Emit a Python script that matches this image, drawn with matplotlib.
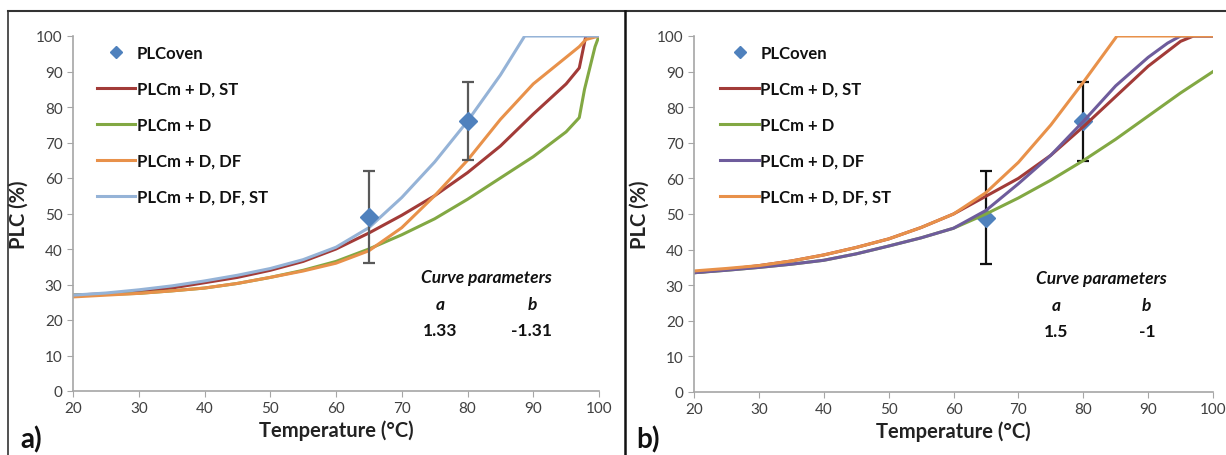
import matplotlib
matplotlib.use("Agg")
import matplotlib.pyplot as plt
from matplotlib.lines import Line2D

plt.rcParams['font.family'] = ['Lato', 'DejaVu Sans']

# ---------------- datos ----------------
oven_t = [65, 80]
oven_plc = [49, 76]
oven_lo = [36, 65]
oven_hi = [62, 87]

# panel a)
a_st_t = [20, 25, 30, 35, 40, 45, 50, 55, 60, 65, 70, 75, 80, 85, 90, 95, 97, 98, 100]
a_st_v = [27, 27.4, 28, 29, 30.5, 32, 34, 36.5, 40, 44.5, 49.5, 55, 61.5, 69, 78, 86.5, 91, 100, 100]
a_d_t = [20, 25, 30, 35, 40, 45, 50, 55, 60, 65, 70, 75, 80, 85, 90, 95, 97, 97.8, 98.6, 99.4, 100]
a_d_v = [27, 27.2, 27.5, 28.2, 29, 30.3, 32, 34, 36.5, 40, 44, 48.5, 54, 60, 66, 73, 77, 85, 91, 97, 100]
a_df_t = [20, 25, 30, 35, 40, 45, 50, 55, 60, 65, 70, 75, 80, 85, 90, 95, 97, 98, 100]
a_df_v = [26.5, 27, 27.5, 28.2, 29, 30.3, 32, 33.8, 36, 39.5, 46, 55, 65, 76.5, 86.5, 94, 97, 99, 100]
a_dfst_t = [20, 25, 30, 35, 40, 45, 50, 55, 60, 65, 70, 75, 80, 85, 88.7, 100]
a_dfst_v = [27, 27.6, 28.5, 29.6, 31, 32.6, 34.5, 37, 40.5, 46, 54.5, 64.5, 76, 89, 100, 100]

# panel b)
b_st_t = [20, 25, 30, 35, 40, 45, 50, 55, 60, 65, 70, 75, 80, 85, 90, 95, 97, 100]
b_st_v = [33.5, 34.4, 35.5, 36.8, 38.5, 40.6, 43, 46.2, 50, 55, 60, 66.5, 74.5, 83, 91.5, 98.5, 100, 100]
b_d_t = [20, 25, 30, 35, 40, 45, 50, 55, 60, 65, 70, 75, 80, 85, 90, 95, 100]
b_d_v = [33.5, 34.2, 35, 35.9, 37, 38.8, 41, 43.3, 46, 50, 54.5, 59.5, 65, 71, 77.5, 84, 90]
b_df_t = [20, 25, 30, 35, 40, 45, 50, 55, 60, 65, 70, 75, 80, 85, 90, 93, 95, 100]
b_df_v = [33.5, 34.2, 35, 35.9, 37, 38.8, 41, 43.3, 46, 51, 58.5, 66.5, 76, 86, 94, 98, 100, 100]
b_dfst_t = [20, 25, 30, 35, 40, 45, 50, 55, 60, 65, 70, 75, 80, 85.2, 100]
b_dfst_v = [34, 34.7, 35.5, 36.8, 38.5, 40.6, 43, 46.2, 50, 56, 64.5, 75, 87, 100, 100]

c_red = "#A23B38"
c_green = "#82A843"
c_orange = "#E8914A"
c_blue = "#95B3D7"
c_purple = "#6E5C9C"
c_mark = "#4F81BD"
tick_c = "#404040"

fig = plt.figure(figsize=(12.26, 4.56), dpi=100)


def style_axes(ax):
    ax.set_xlim(20, 100)
    ax.set_ylim(0, 100)
    ax.set_xticks(range(20, 101, 10))
    ax.set_yticks(range(0, 101, 10))
    for s in ("top", "right"):
        ax.spines[s].set_visible(False)
    for s in ("left", "bottom"):
        ax.spines[s].set_color("#A6A6A6")
        ax.spines[s].set_linewidth(1.2)
    ax.tick_params(direction="out", length=4, color="#A6A6A6", labelcolor=tick_c,
                   labelsize=11)
    ax.set_xlabel("Temperature (°C)", fontsize=14.5, fontweight="bold", color="#222222",
                  labelpad=3)
    ax.set_ylabel("PLC (%)", fontsize=14.5, fontweight="bold", color="#222222", labelpad=5)


def panel(ax, series, a_txt, b_txt, bar_c, marks_on_top, leg_x):
    style_axes(ax)
    zm = 4 if marks_on_top else 1.5
    ax.errorbar(oven_t, oven_plc,
                yerr=[[p - l for p, l in zip(oven_plc, oven_lo)],
                      [h - p for p, h in zip(oven_plc, oven_hi)]],
                fmt="none", ecolor=bar_c, elinewidth=1.6, capsize=4, capthick=1.6,
                zorder=zm - 0.1)
    ax.plot(oven_t, oven_plc, "D", color=c_mark, markersize=9.5, zorder=zm,
            label="PLCoven", linestyle="none")
    for t, v, c, lab in series:
        ax.plot(t, v, color=c, lw=2.2, label=lab, zorder=2)
    handles, labels = ax.get_legend_handles_labels()
    leg = ax.legend(handles, labels, loc="upper left", bbox_to_anchor=(leg_x, 0.975),
                    frameon=False, handlelength=2.3, handletextpad=0.1,
                    labelspacing=1.2, borderaxespad=0, borderpad=0,
                    markerscale=0.6, prop={"weight": "bold", "size": 12})
    for txt in leg.get_texts():
        txt.set_color("#111111")
    kw = dict(ha="center", va="center", fontsize=12.5, fontweight="bold", color="#111111")
    ax.text(82.8, 32, "Curve parameters", fontstyle="italic", **kw)
    ax.text(75.8, 24.5, "a", fontstyle="italic", **kw)
    ax.text(89.8, 24.5, "b", fontstyle="italic", **kw)
    ax.text(75.8, 17.2, a_txt, **kw)
    ax.text(89.8, 17.2, b_txt, **kw)


ax1 = fig.add_axes([73 / 1226, 1 - 392 / 456, 526 / 1226, 355 / 456])
panel(ax1, [(a_st_t, a_st_v, c_red, "PLCm + D, ST"),
            (a_d_t, a_d_v, c_green, "PLCm + D"),
            (a_df_t, a_df_v, c_orange, "PLCm + D, DF"),
            (a_dfst_t, a_dfst_v, c_blue, "PLCm + D, DF, ST")],
      "1.33", "-1.31", "#595959", True, 0.045)

ax2 = fig.add_axes([694 / 1226, 1 - 393 / 456, 519 / 1226, 356 / 456])
panel(ax2, [(b_st_t, b_st_v, c_red, "PLCm + D, ST"),
            (b_d_t, b_d_v, c_green, "PLCm + D"),
            (b_df_t, b_df_v, c_purple, "PLCm + D, DF"),
            (b_dfst_t, b_dfst_v, c_orange, "PLCm + D, DF, ST")],
      "1.5", "-1", "#111111", False, 0.051)

# marco y separador
fig.add_artist(Line2D([8 / 1226, 1], [1 - 12 / 456] * 2, color="#333333", lw=1.5))
fig.add_artist(Line2D([8 / 1226] * 2, [0, 1 - 12 / 456], color="#333333", lw=1.2))
fig.add_artist(Line2D([625 / 1226] * 2, [0, 1 - 12 / 456], color="#111111", lw=1.8))

fig.text(20 / 1226, 1 - 440 / 456, "a)", fontsize=20, fontweight="bold",
         va="center", color="#111111")
fig.text(636 / 1226, 1 - 440 / 456, "b)", fontsize=20, fontweight="bold",
         va="center", color="#111111")

fig.savefig("out.png", dpi=100, facecolor="white")
